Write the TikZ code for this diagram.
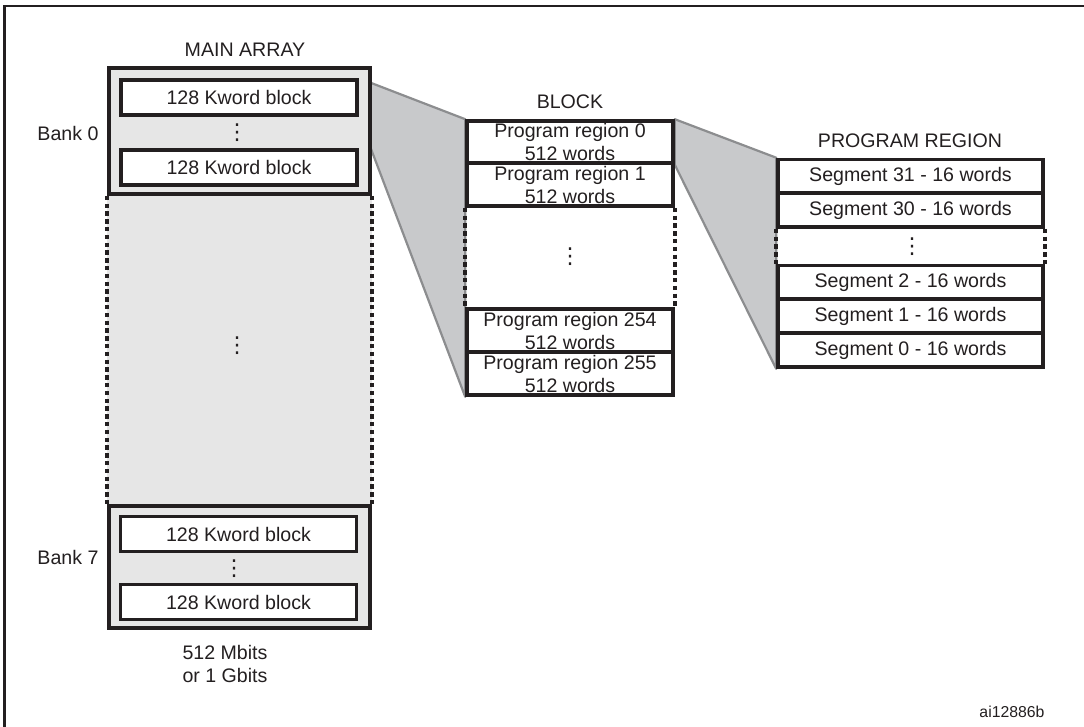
\documentclass[tikz,border=0pt]{standalone}
\usepackage{fontspec}
\setmainfont{Liberation Sans}
\newfontfamily\dotsfont{DejaVu Sans}
\usepackage{tikz}
\usetikzlibrary{positioning,backgrounds}
\definecolor{arrayGray}{RGB}{230,230,230}
\definecolor{zoomGray}{RGB}{200,201,203}
\definecolor{edgeGray}{RGB}{140,141,143}
\definecolor{inkBlack}{RGB}{35,31,32}

\tikzset{
  txt/.style={font=\fontsize{9.8}{11.5}\selectfont, text=inkBlack, inner sep=0pt, align=center},
  vdots/.style={font=\dotsfont\fontsize{11}{11}\selectfont, text=inkBlack, inner sep=0pt},
  bankbox/.style={draw=inkBlack, line width=1.8pt, fill=arrayGray, minimum width=130.5pt, inner sep=0pt},
  kwbox/.style={txt, draw=inkBlack, line width=1.8pt, fill=white, minimum width=118pt, minimum height=17.5pt},
  regbox/.style={txt, draw=inkBlack, line width=1.8pt, fill=white, minimum width=103pt, minimum height=21.5pt},
  segbox/.style={txt, draw=inkBlack, line width=1.8pt, fill=white, minimum width=132.5pt, minimum height=17pt},
  dotside/.style={inkBlack, line width=1.8pt, dash pattern=on 2.2pt off 1.7pt},
  zoomfan/.style={fill=zoomGray, draw=edgeGray, line width=1.1pt, line join=round},
}

\begin{document}
\begin{tikzpicture}[x=0.5pt, y=-0.5pt]
  \useasboundingbox (0,0) rectangle (1084,727);
  % frame
  \draw[inkBlack, line width=1.3pt] (4.5,740) |- (1100,6);

  % main array
  \node[bankbox, minimum height=63pt] (bank0) at (239.5,131) {};
  \node[bankbox, minimum height=61pt] (bank7) at (239.5,567) {};
  \node[kwbox] (kw0a) at (239,97.5) {128 Kword block};
  \node[kwbox] (kw0b) at (239,167.5) {128 Kword block};
  \node[kwbox] (kw7a) at (238.5,534) {128 Kword block};
  \node[kwbox] (kw7b) at (238.5,602) {128 Kword block};
  \node[vdots] (dots0) at (237,133) {⋮};
  \node[vdots] (dotsmid) at (237,346) {⋮};
  \node[vdots] (dots7) at (234,569) {⋮};

  \node[txt] (arraytitle) at (245,50) {MAIN ARRAY};
  \node[txt] (bank0lbl) at (68,133) {Bank 0};
  \node[txt] (bank7lbl) at (68,557) {Bank 7};
  \node[txt] (arraysize) at (225,663.5) {512 Mbits\\or 1 Gbits};

  % block
  \node[txt] (blocktitle) at (570,102) {BLOCK};
  \node[regbox, minimum height=21pt] (reg0) at (570,142) {Program region 0\\512 words};
  \node[regbox] (reg1) at (570,184.5) {Program region 1\\512 words};
  \node[regbox] (reg254) at (570,330.5) {Program region 254\\512 words};
  \node[regbox] (reg255) at (570,373.5) {Program region 255\\512 words};
  \node[vdots] (dotsblk) at (570,257) {⋮};

  % program region
  \node[txt] (regiontitle) at (910,141) {PROGRAM REGION};
  \node[segbox] (seg31) at (910.5,176.5) {Segment 31 - 16 words};
  \node[segbox] (seg30) at (910.5,210) {Segment 30 - 16 words};
  \node[segbox] (seg2) at (910.5,282.5) {Segment 2 - 16 words};
  \node[segbox] (seg1) at (910.5,316) {Segment 1 - 16 words};
  \node[segbox] (seg0) at (910.5,350) {Segment 0 - 16 words};
  \node[vdots] (dotsseg) at (912,247) {⋮};

  \node[font=\fontsize{7.9}{9}\selectfont, text=inkBlack, inner sep=0pt] (figid) at (1012,712) {ai12886b};

  % fans and dotted sides
  \begin{scope}[on background layer]
    \draw[zoomfan] (kw0a.north east) -- (reg0.north west) -- (reg255.south west) -- (kw0a.south east) -- cycle;
    \draw[zoomfan] (reg0.north east) -- (seg31.north west) -- (seg0.south west) -- (reg0.south east) -- cycle;
    \fill[arrayGray] (bank0.south west) rectangle (bank7.north east);
  \end{scope}
  \draw[dotside] (bank0.south west) -- (bank7.north west);
  \draw[dotside] (bank0.south east) -- (bank7.north east);
  \draw[dotside] (reg1.south west) -- (reg254.north west);
  \draw[dotside] (reg1.south east) -- (reg254.north east);
  \draw[dotside] (seg30.south west) -- (seg2.north west);
  \draw[dotside] (seg30.south east) -- (seg2.north east);
\end{tikzpicture}
\end{document}
